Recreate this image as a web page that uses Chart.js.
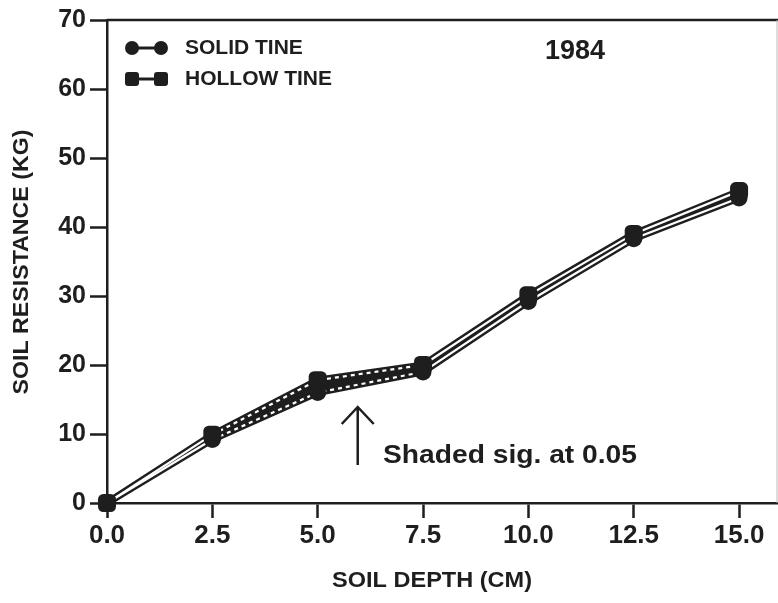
<!DOCTYPE html>
<html>
<head>
<meta charset="utf-8">
<script src="https://cdn.jsdelivr.net/npm/chart.js@4/dist/chart.umd.min.js"></script>
<style>
  html, body { margin: 0; padding: 0; background: #fff; overflow: hidden; }
  canvas { display: block; }
</style>
</head>
<body>
<canvas id="chart" width="778" height="603"></canvas>
<script>
const depth = [0, 2.5, 5, 7.5, 10, 12.5, 15];
const solidTine = [0, 9.2, 16, 19, 29.2, 38.3, 44.2];
const hollowTine = [0, 9.9, 17.8, 20, 30.1, 39, 45.2];
const shadeRange = [2.5, 7.5];
const xTicks = [0, 2.5, 5, 7.5, 10, 12.5, 15];
const yTicks = [0, 10, 20, 30, 40, 50, 60, 70];

const INK = '#1e1e1e';
const FONT = '"Liberation Sans", Arial, sans-serif';

const pts = ys => depth.map((x, i) => ({ x: x, y: ys[i] }));
const inShade = x => x >= shadeRange[0] && x <= shadeRange[1];
const shadePts = ys => pts(ys).filter(p => inShade(p.x));
const dashInShade = ctx => (inShade(ctx.p0.parsed.x) && inShade(ctx.p1.parsed.x)) ? [4, 4] : undefined;

function stretchText(ctx, text, x, y, font, width, align) {
  ctx.save();
  ctx.font = font;
  const w = ctx.measureText(text).width;
  const k = width ? width / w : 1;
  ctx.translate(x, y);
  ctx.scale(k, 1);
  ctx.textAlign = align || 'left';
  ctx.textBaseline = 'middle';
  ctx.fillText(text, 0, 0);
  ctx.restore();
}

const decor = {
  id: 'decor',
  afterDraw(chart) {
    const ctx = chart.ctx;
    const a = chart.chartArea;
    ctx.save();
    ctx.strokeStyle = INK;
    ctx.fillStyle = INK;
    // frame top + right
    ctx.lineWidth = 2.5;
    ctx.beginPath();
    ctx.moveTo(a.left, a.top);
    ctx.lineTo(chart.width, a.top);
    ctx.stroke();
    ctx.strokeStyle = '#bbb';
    ctx.lineWidth = 1;
    ctx.beginPath();
    ctx.moveTo(a.right, a.top);
    ctx.lineTo(a.right, a.bottom);
    ctx.stroke();

    // legend
    ctx.strokeStyle = INK;
    ctx.lineWidth = 3;
    [[48, 'circle', 'SOLID TINE'], [79, 'square', 'HOLLOW TINE']].forEach(([y, shape, label]) => {
      ctx.beginPath();
      ctx.moveTo(132, y);
      ctx.lineTo(161, y);
      ctx.stroke();
      [132, 161].forEach(cx => {
        ctx.beginPath();
        if (shape === 'circle') ctx.arc(cx, y, 7, 0, Math.PI * 2);
        else ctx.roundRect(cx - 7, y - 7, 14, 14, 3);
        ctx.fill();
      });
      stretchText(ctx, label, 185, y, 'bold 21px ' + FONT, 0);
    });

    stretchText(ctx, '1984', 575, 52, 'bold 27px ' + FONT, 0, 'center');

    // axis titles
    stretchText(ctx, 'SOIL DEPTH (CM)', 432, 581, 'bold 22px ' + FONT, 200, 'center');
    ctx.save();
    ctx.translate(22, 262);
    ctx.rotate(-Math.PI / 2);
    stretchText(ctx, 'SOIL RESISTANCE (KG)', 0, 0, 'bold 22px ' + FONT, 265, 'center');
    ctx.restore();

    // annotation arrow + note
    const xs = chart.scales.x;
    const ax = xs.getPixelForValue(5.95);
    ctx.lineWidth = 2.5;
    ctx.beginPath();
    ctx.moveTo(ax, 465);
    ctx.lineTo(ax, 407);
    ctx.moveTo(ax - 16, 424);
    ctx.lineTo(ax, 407);
    ctx.lineTo(ax + 16, 424);
    ctx.stroke();
    stretchText(ctx, 'Shaded sig. at 0.05', 383, 456, 'bold 25px ' + FONT, 254);
    ctx.restore();
  }
};

new Chart(document.getElementById('chart'), {
  type: 'line',
  data: {
    datasets: [
      { data: shadePts(hollowTine), borderWidth: 0, pointRadius: 0, fill: false, order: 7 },
      { data: shadePts(solidTine), borderWidth: 0, pointRadius: 0, fill: 0, backgroundColor: INK, order: 6 },
      { data: pts(solidTine), borderColor: INK, borderWidth: 7, pointRadius: 0, order: 5 },
      { data: pts(hollowTine), borderColor: INK, borderWidth: 7, pointRadius: 0, order: 4 },
      { data: pts(solidTine), borderColor: '#fff', borderWidth: 2.2, pointRadius: 0, order: 3,
        segment: { borderDash: dashInShade } },
      { data: pts(hollowTine), borderColor: '#fff', borderWidth: 2.2, pointRadius: 0, order: 2,
        segment: { borderDash: dashInShade } },
      { data: pts(solidTine), showLine: false, pointStyle: 'circle', pointRadius: 8.5,
        pointBackgroundColor: INK, pointBorderWidth: 0, order: 1, clip: false },
      { data: pts(hollowTine), showLine: false, pointStyle: 'rectRounded', pointRadius: 10.5,
        pointBackgroundColor: INK, pointBorderWidth: 0, order: 0, clip: false }
    ]
  },
  options: {
    responsive: false,
    animation: false,
    events: [],
    layout: { autoPadding: false, padding: { top: 20, right: 1, left: 0, bottom: 0 } },
    elements: { line: { tension: 0, fill: false } },
    plugins: { legend: { display: false }, tooltip: { enabled: false } },
    scales: {
      x: {
        type: 'linear',
        min: 0,
        max: 15.9,
        afterBuildTicks: s => { s.ticks = xTicks.map(v => ({ value: v })); },
        afterFit: s => { s.height = 100; s.paddingLeft = 0; s.paddingRight = 0; },
        grid: { drawOnChartArea: false, tickLength: 15, tickWidth: 2.5, tickColor: INK },
        border: { color: INK, width: 2.5 },
        ticks: {
          color: INK,
          padding: 2,
          maxRotation: 0,
          font: { family: FONT, size: 26, weight: 'bold' },
          callback: v => v.toFixed(1)
        }
      },
      y: {
        min: 0,
        max: 70,
        afterBuildTicks: s => { s.ticks = yTicks.map(v => ({ value: v })); },
        afterFit: s => { s.width = 107; s.paddingTop = 0; s.paddingBottom = 0; },
        grid: { drawOnChartArea: false, tickLength: 17, tickWidth: 2.5, tickColor: INK },
        border: { color: INK, width: 2.5 },
        ticks: {
          color: INK,
          padding: 4,
          font: { family: FONT, size: 25, weight: 'bold' }
        }
      }
    }
  },
  plugins: [decor]
});
</script>
</body>
</html>
